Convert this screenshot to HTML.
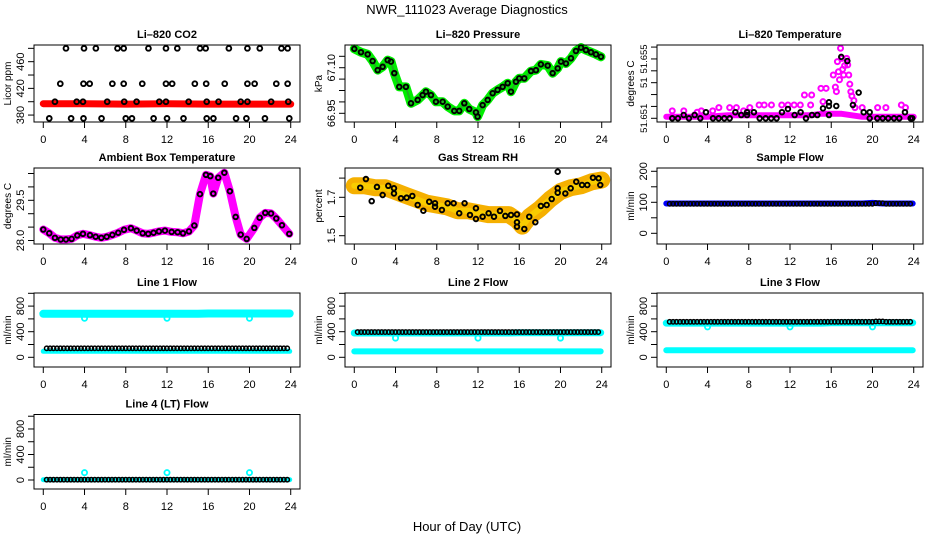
<!DOCTYPE html>
<html><head><meta charset="utf-8"><title>NWR_111023 Average Diagnostics</title>
<style>
html,body{margin:0;padding:0;background:#fff;}
svg{display:block;font-family:"Liberation Sans",sans-serif;}
</style></head>
<body>
<svg id="chart" width="936" height="540" viewBox="0 0 936 540">
<text x="467" y="14" text-anchor="middle" font-size="13">NWR_111023  Average Diagnostics</text>
<text x="467" y="531" text-anchor="middle" font-size="13">Hour of Day (UTC)</text>
</svg>
<script>
// ---------- data ----------
const xTicks=[0,4,8,12,16,20,24];
const hrs=[0,1,2,3,4,5,6,7,8,9,10,11,12,13,14,15,16,17,18,19,20,21,22,23];
// CO2
const co2H=[2.2,3.95,5.1,7.2,7.8,10.2,11.9,13.0,15.2,15.75,18.0,19.8,21.0,23.1,23.7,
 1.65,3.9,4.5,6.7,7.8,9.6,11.9,12.5,14.7,15.8,17.6,19.8,20.5,22.6,23.7,
 1.13,3.24,3.85,6.2,7.85,9.05,11.25,11.9,14.1,15.85,17.0,19.15,19.8,22.1,23.76,
 0.58,2.7,3.9,5.65,8.0,8.6,10.7,12.0,13.6,15.85,16.5,18.7,19.7,21.5,23.86];
const co2V=[480,480,480,480,480,480,480,480,480,480,480,480,480,480,480,
 427,427,427,427,427,427,427,427,427,427,427,427,427,427,427,
 400,400,400,400,400,400,400,400,400,400,400,400,400,400,400,
 375,375,375,375,375,375,375,375,375,375,375,375,375,375,375];
const co2RedH=[0,4,8,12,16,20,24];
const co2RedV=[397,397,396.5,397,396.5,396.5,396.5];
const co2Ticks=[380,400,420,440,460,480];
const co2Labels=["380","","420","","460",""];
// Pressure
const presH=[0,0.65,1.3,1.78,2.27,2.75,3.24,3.56,3.88,4.36,5.01,5.5,6.15,6.63,6.95,7.44,7.92,8.57,9.06,9.7,10.18,10.67,11.15,11.8,11.96,12.45,12.94,13.42,13.9,14.39,14.88,15.2,15.68,16.0,16.49,17.14,17.62,18.1,18.76,19.24,19.73,20.05,20.53,21.02,21.5,21.99,22.47,22.96,23.44,23.93];
const presV=[67.162,67.151,67.144,67.122,67.092,67.103,67.125,67.12,67.082,67.037,67.037,66.983,66.994,67.01,67.021,67.01,66.988,66.988,66.972,66.958,66.958,66.983,66.964,66.953,66.939,66.977,66.994,67.016,67.027,67.037,67.049,67.021,67.054,67.065,67.065,67.089,67.092,67.111,67.107,67.082,67.098,67.12,67.114,67.131,67.155,67.166,67.158,67.151,67.144,67.136];
const presTicks=[66.95,66.9875,67.025,67.0625,67.10,67.1375];
const presLabels=["66.95","","","","67.10",""];
// Li-820 temperature
const tBaseH=[0,2,4,6,8,10,12,14,15,16,17,18,19,20,22,24];
const tBaseV=[51.6511,51.6511,51.6511,51.6512,51.6512,51.6512,51.6512,51.6512,51.6513,51.6513,51.6513,51.6512,51.6511,51.6511,51.6511,51.6511];
const tMagH=[0.58,1.7,2.75,3.4,4.5,5.1,6.15,6.8,8.1,9.0,10.2,11.2,12.4,13.4,14.0,14.1,15.0,15.2,15.5,16.2,16.4,16.6,16.7,16.9,17.05,17.2,17.3,17.5,17.7,17.9,18.0,18.2,16.8,17.1,17.6,17.8,16.5,18.3,19.0,20.5,21.3,22.8,23.2,3.0,7.5,9.5,11.8,13.0];
const tMagV=[51.6515,51.6515,51.65122,51.6515,51.6515,51.65172,51.65172,51.65172,51.65172,51.6519,51.6519,51.6519,51.6519,51.65257,51.6519,51.65257,51.65302,51.65212,51.65302,51.65392,51.6531,51.65482,51.65414,51.65572,51.65504,51.65392,51.65455,51.65504,51.65392,51.65279,51.6525,51.6522,51.6536,51.6543,51.6546,51.6533,51.6528,51.65172,51.65172,51.65172,51.65172,51.6519,51.65172,51.65141,51.6515,51.6519,51.6519,51.6519];
const tBlkH=[0.58,1.13,1.69,2.2,2.75,3.3,3.85,4.53,5.08,5.63,6.15,6.7,7.27,7.83,7.83,8.5,9.06,9.64,10.18,10.7,11.22,11.8,12.45,13.03,13.55,14.13,14.65,15.2,15.78,15.78,15.78,16.49,16.97,17.56,18.1,18.66,19.15,19.73,19.73,20.47,20.99,21.53,22.09,22.6,23.15,23.7,23.86];
const tBlkV=[51.651,51.651,51.65122,51.651,51.65122,51.651,51.65141,51.651,51.651,51.651,51.651,51.65141,51.65122,51.65122,51.65141,51.65141,51.651,51.651,51.651,51.651,51.65141,51.65163,51.65122,51.65141,51.651,51.65122,51.65122,51.65167,51.65208,51.65183,51.65122,51.65183,51.65514,51.65486,51.6519,51.65273,51.65141,51.65141,51.651,51.651,51.651,51.651,51.651,51.651,51.65141,51.651,51.651];
const tTicks=[51.651,51.6518,51.6526,51.6534,51.6542,51.655,51.6558];
const tLabels=["51.651","","","51","","51.655",""];
// Ambient box temperature
const ambH=[0,0.58,1.13,1.69,2.2,2.75,3.3,3.85,4.53,5.08,5.63,6.15,6.7,7.27,7.83,8.5,9.06,9.64,10.18,10.7,11.22,11.8,12.45,13.03,13.55,14.13,14.65,15.2,15.78,16.2,16.49,16.97,17.56,18.1,18.66,19.15,19.73,20.47,20.99,21.53,22.09,22.6,23.15,23.86];
const ambV=[28.41,28.27,28.10,28.04,28.04,28.06,28.19,28.25,28.2,28.14,28.10,28.14,28.21,28.29,28.4,28.46,28.37,28.27,28.25,28.29,28.34,28.37,28.32,28.31,28.27,28.34,28.56,29.73,30.45,30.40,29.75,30.34,30.53,29.84,28.88,28.22,28.06,28.47,28.85,29.03,29.01,28.82,28.57,28.25];
const ambTicks=[28.0,28.5,29.0,29.5,30.0,30.5];
const ambLabels=["28.0","","","29.5","",""];
// Gas stream RH
const rhBandH=[0,1,2,3,4,5,6,7,8,9,10,11,12,13,14,15,15.8,16.3,17,18,19,20,21,22,23,24];
const rhBandV=[1.76,1.76,1.75,1.75,1.73,1.71,1.69,1.67,1.66,1.65,1.63,1.63,1.62,1.61,1.61,1.61,1.58,1.55,1.60,1.64,1.69,1.73,1.75,1.76,1.78,1.79];
const rhH=[0.58,1.13,1.69,2.2,2.75,3.3,3.85,3.85,4.53,5.08,5.63,6.15,6.7,7.27,7.83,7.83,8.5,9.06,9.64,10.18,10.7,11.22,11.8,11.8,12.45,13.03,13.55,14.13,14.65,15.2,15.78,15.78,15.78,16.49,16.97,17.56,18.1,18.66,19.15,19.73,19.73,19.73,20.47,20.99,21.53,22.09,22.6,23.15,23.7,23.86];
const rhV=[1.75,1.795,1.68,1.754,1.712,1.76,1.747,1.72,1.695,1.698,1.707,1.66,1.63,1.677,1.651,1.669,1.634,1.669,1.669,1.617,1.669,1.608,1.643,1.587,1.599,1.617,1.599,1.629,1.603,1.608,1.611,1.57,1.547,1.535,1.599,1.57,1.655,1.66,1.691,1.724,1.747,1.833,1.72,1.747,1.781,1.764,1.764,1.802,1.799,1.764];
const rhTicks=[1.5,1.6,1.7,1.8];
const rhLabels=["1.5","","1.7",""];
// Flows (hourly values)
const sampleBlk=[95,95,95,95,95,95,95,95,95,95,95,95,95,95,95,95,95,95,95,95,97,95,95,95];
const sampleBlue=[96,96,96,96,96,96,96,96,96,96,96,96,96,96,96,96,96,96,96,96,98,96,96,96];
const sampleTicks=[0,50,100,150,200];
const sampleLabels=["0","","100","","200"];
const flowTicks=[0,200,400,600,800,1000];
const flowLabels=["0","","400","","800",""];
const dipH=[4,12,20];
const l1Blk=[140,140,140,140,140,140,140,140,140,140,140,140,140,140,140,140,140,140,140,140,140,140,140,140];
const l1CyanHi=[680,680,680,680,680,680,680,680,680,680,680,680,680,680,680,680,685,685,685,685,685,685,685,685];
const l1CyanLo=[94,94,94,94,94,94,94,94,94,94,94,94,94,94,94,94,94,94,94,94,94,94,94,94];
const l1Dip=[610,610,610];
const l2Blk=[395,395,395,395,395,395,395,395,395,395,395,395,395,395,395,395,395,395,395,395,395,395,395,395];
const l2CyanHi=[380,380,380,380,380,380,380,380,380,380,380,380,380,380,380,380,385,385,385,385,385,385,385,385];
const l2CyanLo=[92,92,92,92,92,92,92,92,92,92,92,92,92,92,92,92,92,92,92,92,92,92,92,92];
const l2Dip=[300,300,300];
const l3Blk=[555,555,555,555,555,555,555,555,555,555,555,555,555,555,555,555,555,555,555,555,560,555,555,555];
const l3CyanHi=[535,535,535,535,535,535,535,535,535,535,535,535,535,535,535,535,540,540,540,540,540,540,540,540];
const l3CyanLo=[110,110,110,110,110,110,110,110,110,110,110,110,110,110,110,110,110,110,110,110,110,110,110,110];
const l3Dip=[475,475,475];
const l4Blk=[5,5,5,5,5,5,5,5,5,5,5,5,5,5,5,5,5,5,5,5,5,5,5,5];
const l4Cyan=[5,5,5,5,5,5,5,5,5,5,5,5,5,5,5,5,5,5,5,5,5,5,5,5];
const l4Spike=[115,115,115];

// ---------- drawing ----------
const NS="http://www.w3.org/2000/svg";
const svg=document.getElementById('chart');
function mk(tag,attrs,parent){const e=document.createElementNS(NS,tag);for(const k in attrs)e.setAttribute(k,attrs[k]);parent.appendChild(e);return e;}
const colX=[34,345,657], rowTop=[45,168,293,414.5], rowBot=[122,244,367,489], PW=266;

function panel(key,col,row,title,ylab,ymin,ymax,ticks,labels,yfs){
  const x0=colX[col], y0=rowTop[row], yb=rowBot[row];
  const g=mk('g',{},svg);
  
  
  const x=h=>x0+(h+0.9)/25.8*PW;
  const y=v=>yb-(v-ymin)/(ymax-ymin)*(yb-y0);
  const t=mk('text',{x:x0+PW/2,y:y0-7,'text-anchor':'middle','font-size':11,'font-weight':'bold'},g);
  t.textContent=title;
  
  
  const yl=mk('text',{x:0,y:0,'text-anchor':'middle','font-size':10,transform:`translate(${x0-23},${(y0+yb)/2}) rotate(-90)`},g);
  yl.textContent=ylab;
  
  
  xTicks.forEach(v=>{
    const tk=mk('line',{x1:x(v),x2:x(v),y1:yb,y2:yb+6,stroke:'#000','stroke-width':1},g);
    
    
    const lb=mk('text',{x:x(v),y:yb+21,'text-anchor':'middle','font-size':11},g);
    lb.textContent=String(v);
    
    
  });
  ticks.forEach((v,i)=>{
    const tk=mk('line',{x1:x0-6,x2:x0,y1:y(v),y2:y(v),stroke:'#000','stroke-width':1},g);
    
    
    if(labels[i]){
      const lb=mk('text',{x:0,y:0,'text-anchor':'middle','font-size':yfs||11,transform:`translate(${x0-10},${y(v)}) rotate(-90)`},g);
      lb.textContent=labels[i];
      
      
    }
  });
  const plot=mk('g',{},g);
  
  
  const box=mk('rect',{x:x0,y:y0,width:PW,height:yb-y0,fill:'none',stroke:'#000','stroke-width':1},g);
  
  
  return {x,y,g:plot,key};
}
function band(p,hs,vs,color,width,nm){
  const pts=hs.map((h,i)=>p.x(h).toFixed(1)+','+p.y(vs[i]).toFixed(1)).join(' ');
  const e=mk('polyline',{points:pts,fill:'none',stroke:color,'stroke-width':width,'stroke-linejoin':'round','stroke-linecap':'round'},p.g);
  
  
}
function pts(p,hs,vs,color,r,sw,nm){
  hs.forEach((h,i)=>{
    const c=mk('circle',{cx:p.x(h),cy:p.y(vs[i]),r:r,fill:'none',stroke:color,'stroke-width':sw},p.g);
    
    
  });
}
function hourly(p,vals,color,r,sw,nm){
  hrs.forEach((h,i)=>{
    [0.5,0.83,1.16].forEach(o=>{
      const hh=h+o-0.17; if(hh>23.95) return;
      const c=mk('circle',{cx:p.x(hh),cy:p.y(vals[i]),r:r,fill:'none',stroke:color,'stroke-width':sw},p.g);
      
      
    });
  });
}
function hourlyBand(p,vals,color,width,nm){
  const hs=hrs.concat([23.9]); const vs=vals.concat([vals[vals.length-1]]);
  band(p,hs,vs,color,width,nm);
}

// Li-820 CO2
let p=panel('co2',0,0,'Li\u2013820 CO2','Licor ppm',369.6,485,co2Ticks,co2Labels);
band(p,co2RedH,co2RedV,'#ff0000',7,'co2-red-series');
pts(p,co2H,co2V,'#000',2.4,1.9,'co2-point');
// Pressure
p=panel('pressure',1,0,'Li\u2013820 Pressure','kPa',66.9214,67.1747,presTicks,presLabels);
band(p,presH,presV,'#00ee00',9,'pressure-green-series');
band(p,presH,presV,'#22b022',2,'pressure-green-core');
pts(p,presH,presV,'#000',2.3,1.9,'pressure-point');
// Temperature
p=panel('licor-temp',2,0,'Li\u2013820 Temperature','degrees C',51.65075,51.65594,tTicks,tLabels,9.5);
band(p,tBaseH,tBaseV,'#ff00ff',6,'licor-temp-magenta-series');
pts(p,tMagH,tMagV,'#ff00ff',2.5,2,'licor-temp-magenta-point');
pts(p,tBlkH,tBlkV,'#000',2.3,1.9,'licor-temp-point');
// Ambient box temp
p=panel('ambient-temp',0,1,'Ambient Box Temperature','degrees C',27.87,30.705,ambTicks,ambLabels);
band(p,ambH,ambV,'#ff00ff',8,'ambient-temp-magenta-series');
pts(p,ambH,ambV,'#000',2.3,1.9,'ambient-temp-point');
// Gas stream RH
p=panel('rh',1,1,'Gas Stream RH','percent',1.4568,1.8526,rhTicks,rhLabels);
band(p,rhBandH,rhBandV,'#f5b000',17,'rh-orange-series');
band(p,rhBandH,rhBandV,'#f8cc00',6,'rh-yellow-core');
pts(p,rhH,rhV,'#000',2.3,1.9,'rh-point');
// Sample flow
p=panel('sample-flow',2,1,'Sample Flow','ml/min',-34.5,210.6,sampleTicks,sampleLabels);
hourlyBand(p,sampleBlue,'#0000ff',6,'sample-flow-blue-series');
hourly(p,sampleBlk,'#000',2.2,1.5,'sample-flow-point');
// Line 1
p=panel('line1-flow',0,2,'Line 1 Flow','ml/min',-151.6,1004.7,flowTicks,flowLabels);
hourlyBand(p,l1CyanHi,'#00ffff',8,'line1-cyan-high-series');
hourlyBand(p,l1CyanLo,'#00ffff',5,'line1-cyan-low-series');
pts(p,dipH,l1Dip,'#00ffff',2.6,1.8,'line1-cyan-dip');
hourly(p,l1Blk,'#000',2.2,1.5,'line1-point');
// Line 2
p=panel('line2-flow',1,2,'Line 2 Flow','ml/min',-151.6,1004.7,flowTicks,flowLabels);
hourlyBand(p,l2CyanHi,'#00ffff',7,'line2-cyan-high-series');
hourlyBand(p,l2CyanLo,'#00ffff',6,'line2-cyan-low-series');
pts(p,dipH,l2Dip,'#00ffff',2.6,1.8,'line2-cyan-dip');
hourly(p,l2Blk,'#000',2.2,1.5,'line2-point');
// Line 3
p=panel('line3-flow',2,2,'Line 3 Flow','ml/min',-151.6,1004.7,flowTicks,flowLabels);
hourlyBand(p,l3CyanHi,'#00ffff',7,'line3-cyan-high-series');
hourlyBand(p,l3CyanLo,'#00ffff',6,'line3-cyan-low-series');
pts(p,dipH,l3Dip,'#00ffff',2.6,1.8,'line3-cyan-dip');
hourly(p,l3Blk,'#000',2.2,1.5,'line3-point');
// Line 4
p=panel('line4-flow',0,3,'Line 4 (LT) Flow','ml/min',-141,1027,flowTicks,flowLabels);
hourlyBand(p,l4Cyan,'#00ffff',5,'line4-cyan-series');
pts(p,dipH,l4Spike,'#00ffff',2.6,1.8,'line4-cyan-spike');
hourly(p,l4Blk,'#000',2.2,1.6,'line4-point');
</script>
</body></html>
